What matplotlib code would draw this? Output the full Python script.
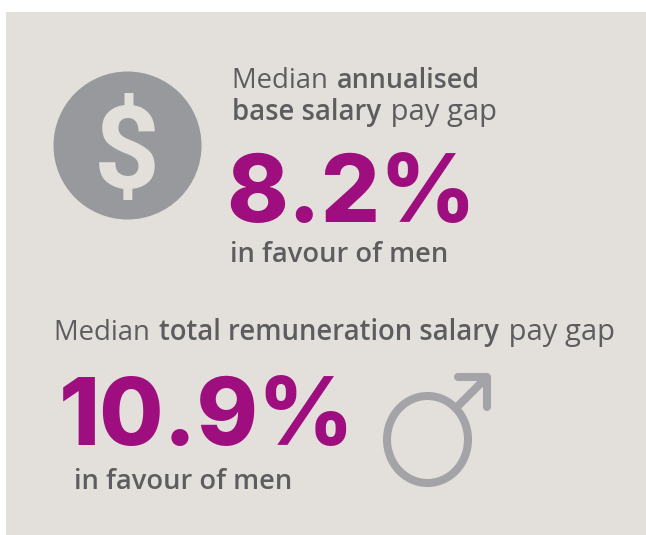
import matplotlib
matplotlib.use("Agg")
import matplotlib.pyplot as plt
from matplotlib.patches import Circle, Ellipse, Rectangle

W, H = 646, 535
BG = "#e3e0db"
TXT = "#5d5d5f"
PURPLE = "#9e0e7f"
GREY = "#98999c"
GREY2 = "#a4a4a8"

headline_values = ["8.2%", "10.9%"]
favour_label = "in favour of men"
base_line1 = [("Median ", "normal", 1.0), ("annualised", "bold", 0.98)]
base_line2 = [("base salary", "bold", 1.0), (" pay gap", "normal", 1.06)]
total_line = [("Median ", "normal", 1.0), ("total remuneration salary", "bold", 1.0), (" pay gap", "normal", 1.06)]
BODY = "Open Sans"
HEAD = "Inter"

fig = plt.figure(figsize=(W / 100, H / 100), dpi=100, facecolor="white")
ax = fig.add_axes([0, 0, 1, 1])
ax.set_xlim(0, W)
ax.set_ylim(H, 0)
ax.axis("off")
ax.add_patch(Rectangle((6, 12), 640, 523, fc=BG, ec="none"))


def runs(x, y, parts, size, gap=2):
    r = fig.canvas.get_renderer()
    cx = x
    for s, w, k in parts:
        weight = "semibold" if w == "bold" else "normal"
        ax.text(cx, y, s, fontsize=size * k, fontweight=weight, color=TXT, family=BODY,
                va="baseline", ha="left")
        probe = ax.text(0, 0, s.replace(" ", "\u00a0"), fontsize=size * k, fontweight=weight, family=BODY)
        cx += probe.get_window_extent(r).width + gap
        probe.remove()


ax.add_patch(Circle((127.5, 145.5), 74, fc=GREY, ec="none"))
ax.text(126.5, 188, "$", fontsize=83, fontweight="bold", color=BG, family="Roboto",
        ha="center", va="baseline")

runs(232, 88, base_line1, 19.8)
runs(232, 120, base_line2, 19.8)
ax.text(226, 222, headline_values[0], fontsize=67, fontweight="heavy", color=PURPLE,
        family=HEAD, ha="left", va="baseline")
ax.text(230, 262, favour_label, fontsize=19.6, fontweight="semibold", color=TXT, family=BODY)

runs(54, 340, total_line, 19.8)
ax.text(59, 445, headline_values[1], fontsize=67, fontweight="heavy", color=PURPLE,
        family=HEAD, ha="left", va="baseline")
ax.text(74, 489, favour_label, fontsize=19.6, fontweight="semibold", color=TXT, family=BODY)

ax.add_patch(Ellipse((427.5, 439.5), 81, 87, fc="none", ec=GREY2, lw=5.8))
ax.plot([456, 486], [408, 378], color=GREY2, lw=5.8, solid_capstyle="round")
ax.plot([458, 487, 487], [377, 377, 407], color=GREY2, lw=5.8,
        solid_capstyle="round", solid_joinstyle="round")

fig.savefig("out.png", dpi=100, facecolor="white")
